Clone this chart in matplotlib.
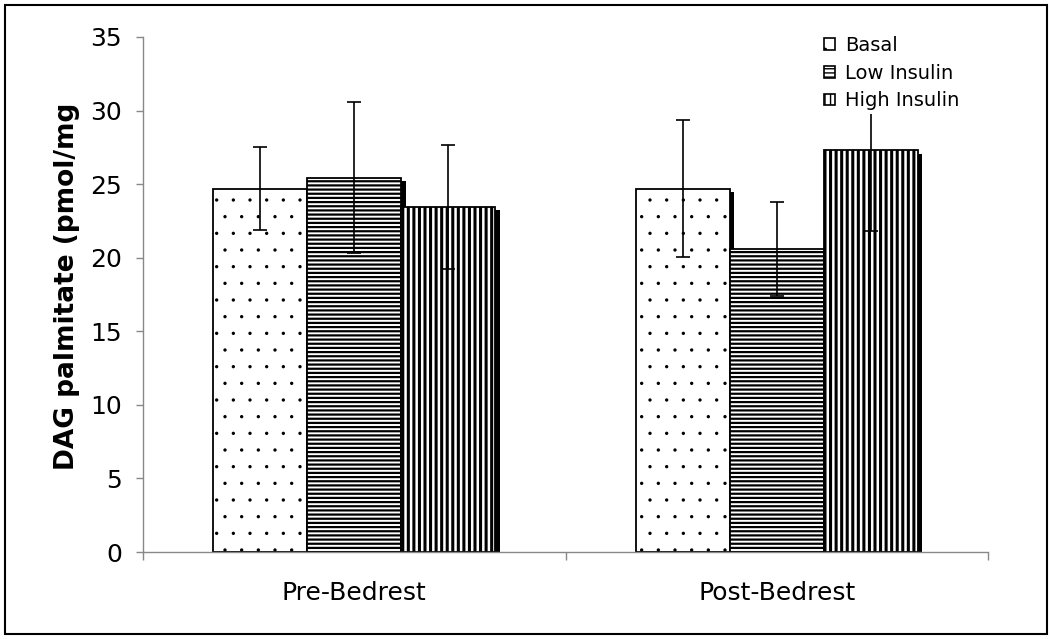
import matplotlib
matplotlib.use("Agg")
import matplotlib.pyplot as plt
import matplotlib.patheffects as pe
from matplotlib.patches import Rectangle
import numpy as np

categories = ["Pre-Bedrest", "Post-Bedrest"]
series_names = ["Basal", "Low Insulin", "High Insulin"]
basal = [24.7, 24.7]
basal_err = [2.85, 4.65]
low_insulin = [25.45, 20.6]
low_insulin_err = [5.15, 3.2]
high_insulin = [23.45, 27.3]
high_insulin_err = [4.2, 5.5]
y_ticks = [0, 5, 10, 15, 20, 25, 30, 35]

values = [basal, low_insulin, high_insulin]
errors = [basal_err, low_insulin_err, high_insulin_err]
hatches = [".", "----", "|||"]
hatch_lws = [0.0, 1.6, 2.2]

fig = plt.figure(figsize=(10.5, 6.39), dpi=100)
ax = fig.add_axes([143/1050, 1-552/639, 845/1050, 515/639])

x = np.arange(len(categories))
w = 0.2225
offsets = [-w, 0, w]
shadow = [pe.SimplePatchShadow(offset=(3.2, -2.5), shadow_rgbFace="black", alpha=1.0), pe.Normal()]

handles = []
for i, (vals, errs) in enumerate(zip(values, errors)):
    bars = ax.bar(x + offsets[i], vals, width=w, color="white", edgecolor="black",
                  linewidth=1.3, hatch=hatches[i], label=series_names[i], zorder=2)
    for b in bars:
        b.set_path_effects(shadow)
        if hasattr(b, "set_hatch_linewidth"):
            b.set_hatch_linewidth(hatch_lws[i])
    handles.append(bars)

for i, (vals, errs) in enumerate(zip(values, errors)):
    ax.errorbar(x + offsets[i], vals, yerr=errs, fmt="none", ecolor="black",
                elinewidth=1.2, capsize=4.7, capthick=1.2, zorder=4)

ax.set_xlim(-0.5, 1.5)
ax.set_ylim(0, 35)
ax.set_yticks(y_ticks)
ax.set_yticklabels([str(t) for t in y_ticks])
ax.set_xticks([-0.5, 0.5, 1.5])
ax.set_xticklabels([])
ax.set_xticks(x, minor=True)
ax.set_xticklabels(categories, minor=True)
ax.tick_params(axis="x", which="minor", length=0, pad=21, labelsize=18)
ax.tick_params(axis="x", which="major", length=6, width=1, color="#888888", direction="out")
ax.tick_params(axis="y", length=5, width=1, color="#888888", direction="out", pad=10, labelsize=18)
for s in ["top", "right"]:
    ax.spines[s].set_visible(False)
for s in ["left", "bottom"]:
    ax.spines[s].set_color("#888888")
    ax.spines[s].set_linewidth(1)

fig.text(67/1050, 1-286/639, "DAG palmitate (pmol/mg", rotation=90, ha="center", va="center",
         fontsize=19, fontweight="bold")

leg = fig.legend(handles=handles, labels=series_names, loc="upper left",
                 bbox_to_anchor=(820/1050, 1-32/639), bbox_transform=fig.transFigure,
                 fontsize=14, frameon=True, fancybox=False, borderpad=0.2,
                 borderaxespad=0, handlelength=0.55, handleheight=0.55, handletextpad=0.55,
                 labelspacing=0.45)
leg.get_frame().set_edgecolor("none")
leg.get_frame().set_facecolor("white")
leg.get_frame().set_alpha(1)
leg.set_zorder(10)
for h in leg.legend_handles:
    h.set_path_effects([])
    h.set_linewidth(1.2)

fig.patches.append(Rectangle((5/1050, 5/639), 1042/1050, 629/639, transform=fig.transFigure,
                             fill=False, edgecolor="black", linewidth=1.5, zorder=20))

fig.savefig("out.png", dpi=100)
